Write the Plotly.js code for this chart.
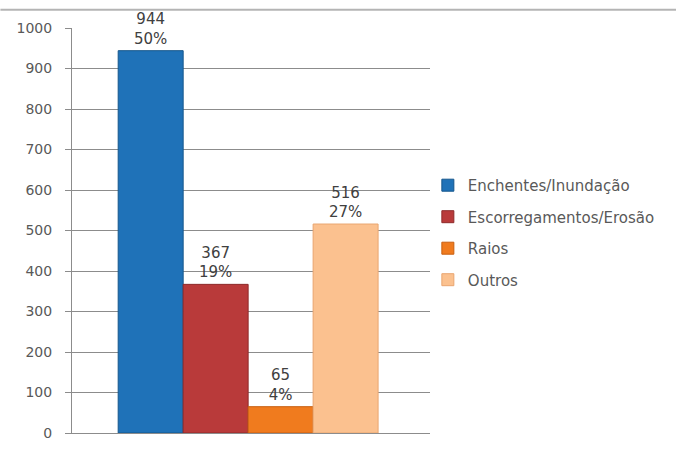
<!DOCTYPE html>
<html><head><meta charset="utf-8">
<script src="https://cdn.plot.ly/plotly-3.0.1.min.js"></script>
<style>body{margin:0;background:#fff}#c{width:676px;height:449px}</style>
</head><body><div id="c"></div>
<script>
var categories = ["Enchentes/Inundação", "Escorregamentos/Erosão", "Raios", "Outros"];
var values = [944, 367, 65, 516];
var percents = ["50%", "19%", "4%", "27%"];
var colors = ["#1f72b8", "#b93a3a", "#f07b1e", "#fbc18f"];
var lineColors = ["#15568c", "#8e2a2a", "#c85f10", "#e9a670"];
var tickVals = [0,100,200,300,400,500,600,700,800,900,1000];
var FONT = "DejaVu Sans, Verdana, sans-serif";

var traces = categories.map(function(c, i){
  return {
    type: "bar", name: c, x: [0], y: [values[i]],
    customdata: [percents[i]],
    texttemplate: "%{y}<br>%{customdata}",
    textposition: "outside", cliponaxis: false,
    textfont: {family: FONT, size: 15, color: "#404040"},
    marker: {color: colors[i], line: {color: lineColors[i], width: 1}},
    legendgroup: "g" + i,
    hoverinfo: "skip"
  };
});

var layout = {
  width: 676, height: 449,
  margin: {l: 72, r: 246, t: 28, b: 16},
  paper_bgcolor: "#ffffff", plot_bgcolor: "#ffffff",
  barmode: "group", bargap: 0.274, bargroupgap: 0,
  font: {family: FONT, color: "#595959"},
  showlegend: true,
  legend: {x: 0.994, y: 0.652, xanchor: "left", yanchor: "top",
    font: {size: 15, color: "#595959"}, tracegroupgap: 9,
    itemwidth: 30, bgcolor: "rgba(0,0,0,0)"},
  xaxis: {type: "linear", range: [-0.492, 0.508], showticklabels: false, showgrid: false, zeroline: false,
    showline: true, linecolor: "#8c8c8c", linewidth: 1, fixedrange: true},
  yaxis: {range: [0, 1000], tickvals: tickVals, showgrid: true,
    gridcolor: "#8c8c8c", gridwidth: 1, zeroline: false,
    showline: true, linecolor: "#8c8c8c", linewidth: 1,
    ticks: "outside", ticklen: 6, tickcolor: "#8c8c8c",
    tickfont: {size: 14, color: "#595959"}, ticklabelstandoff: 10},
  shapes: [{type: "line", xref: "paper", yref: "paper", x0: -0.2, x1: 1.7,
    y0: 1.045, y1: 1.045, line: {color: "#b4b4b4", width: 2}}]
};
Plotly.newPlot("c", traces, layout, {staticPlot: true});
</script></body></html>
